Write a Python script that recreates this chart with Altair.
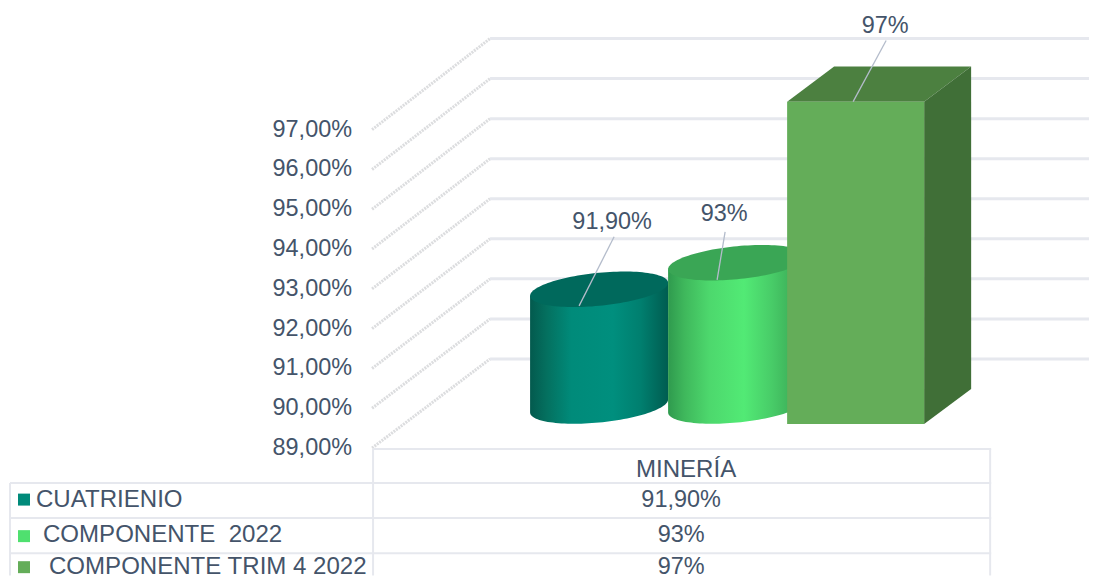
import math
import altair as alt
import pandas as pd

# ---- values
categories = ["CUATRIENIO", "COMPONENTE\u00a0\u00a02022", "COMPONENTE TRIM 4 2022"]
drawn_values = [91.9, 92.56, 97.0]
value_labels = ["91,90%", "93%", "97%"]
axis_values = [89, 90, 91, 92, 93, 94, 95, 96, 97]
axis_labels = ["89,00%", "90,00%", "91,00%", "92,00%", "93,00%", "94,00%", "95,00%", "96,00%", "97,00%"]
column_name = "MINERÍA"

TEXT = "#44546a"
GRID = "#e6e8ee"
FONT = "Liberation Sans"
W, H = 1083, 568
FX, FY = 0.998, 0.997


def pct(py):
    return 89 + (447 - py) / 39.75


x_end = 8 + W * FX
y_end = 8 + H * FY
xs = alt.Scale(domain=[8, x_end], range=[0, W], nice=False, zero=False)
ys = alt.Scale(domain=[pct(y_end), pct(8)], range=[H, 0], nice=False, zero=False)
X = alt.X("x:Q", scale=xs, axis=None)
Y = alt.Y("y:Q", scale=ys, axis=None)
X2 = alt.X2("x2:Q")
Y2 = alt.Y2("y2:Q")


def lines(rows, **mark):
    df = pd.DataFrame([{"x": a, "y": b, "x2": c, "y2": d} for a, b, c, d in rows])
    return alt.Chart(df).mark_rule(**mark).encode(x=X, y=Y, x2=X2, y2=Y2)


def area(df, **mark):
    return alt.Chart(df).mark_area(**mark).encode(x=X, y=Y, y2=Y2)


def texts(rows, size=23.5, align="center"):
    df = pd.DataFrame([{"x": a, "y": b, "t": c} for a, b, c in rows])
    return (
        alt.Chart(df)
        .mark_text(font=FONT, fontSize=size, color=TEXT, align=align, baseline="middle")
        .encode(x=X, y=Y, text="t:N")
    )


# ---- walls
back = {v: pct(358 - (v - 89) * 40) for v in axis_values}
front = {v: pct(447 - (v - 89) * 39.75) for v in axis_values}
grid = lines([(490, back[v], x_end, back[v]) for v in axis_values], color=GRID, strokeWidth=3)
diag = lines(
    [(372, front[v], 490, back[v]) for v in axis_values],
    color="#dcdddf",
    strokeWidth=3,
    strokeDash=[2, 1],
)


# ---- cylinders
def cylinder(cx, value, stops, top_color):
    a, b, s = 69, 16.5, -6.5
    base_y = 405
    top_y = base_y - (value - 89) * 40.2
    ts = [math.pi * (1 - i / 60) for i in range(61)]
    body = pd.DataFrame(
        {
            "x": [cx + a * math.cos(t) for t in ts],
            "y": [pct(top_y + s * math.cos(t)) for t in ts],
            "y2": [pct(base_y + s * math.cos(t) + b * math.sin(t)) for t in ts],
        }
    )
    cap = pd.DataFrame(
        {
            "x": [cx + a * math.cos(t) for t in ts],
            "y": [pct(top_y + s * math.cos(t) - b * math.sin(t)) for t in ts],
            "y2": [pct(top_y + s * math.cos(t) + b * math.sin(t)) for t in ts],
        }
    )
    grad = alt.Gradient(
        gradient="linear",
        x1=0, x2=1, y1=0, y2=0,
        stops=[alt.GradientStop(offset=o, color=c) for o, c in stops],
    )
    return area(body, color=grad) + area(cap, color=top_color)


cyl1 = cylinder(
    599, drawn_values[0],
    [(0, "#035a4e"), (0.12, "#04705f"), (0.3, "#008b7a"), (0.6, "#008f7e"), (0.8, "#007f6f"), (1, "#005c50")],
    "#00695c",
)
cyl2 = cylinder(
    737, drawn_values[1],
    [(0, "#2f9a4e"), (0.12, "#3fb85c"), (0.3, "#4dd86d"), (0.55, "#52ea75"), (0.75, "#48cc68"), (1, "#369e50")],
    "#3aa655",
)

# ---- box
bt = 423 - (drawn_values[2] - 89) * 40.25
bt_back, bb, bb_back = bt - 35, 423, 388
front_df = pd.DataFrame({"x": [787, 924], "y": [pct(bt)] * 2, "y2": [pct(bb)] * 2})
side_df = pd.DataFrame({"x": [924, 971], "y": [pct(bt), pct(bt_back)], "y2": [pct(bb), pct(bb_back)]})
top_df = pd.DataFrame(
    {
        "x": [787, 834, 924, 971],
        "y": [pct(bt), pct(bt_back), pct(bt_back), pct(bt_back)],
        "y2": [pct(bt), pct(bt), pct(bt), pct(bt_back)],
    }
)
box = area(top_df, color="#4c8040") + area(side_df, color="#406f37") + area(front_df, color="#64ad59")

# ---- leaders and data labels
leaders = lines(
    [
        (614, pct(236), 579, pct(305)),
        (725, pct(231), 717, pct(279)),
        (886, pct(40), 853, pct(101)),
    ],
    color="#b4bccb",
    strokeWidth=1.3,
)
data_labels = texts(
    [(612, pct(221), value_labels[0]), (724, pct(213), value_labels[1]), (885, pct(25), value_labels[2])]
)
tick_labels = texts([(352, front[v], l) for v, l in zip(axis_values, axis_labels)], align="right")

# ---- data table
table = lines(
    [
        (373, pct(448), 991, pct(448)),
        (10, pct(482), 991, pct(482)),
        (10, pct(517), 991, pct(517)),
        (10, pct(552), 991, pct(552)),
        (10, pct(482), 10, pct(y_end)),
        (373, pct(448), 373, pct(y_end)),
        (990, pct(448), 990, pct(y_end)),
    ],
    color=GRID,
    strokeWidth=2,
)
row_y = [499, 534, 565.5]
row_x = [36, 43, 49]
row_names = texts([(a, pct(b), c) for a, b, c in zip(row_x, row_y, categories)], size=24.1, align="left")
row_values = texts([(681, pct(b), c) for b, c in zip(row_y, value_labels)], size=23.5)
head = texts([(686, pct(469), column_name)], size=24.1)
swatch_df = pd.DataFrame(
    {
        "x": [24, 24, 24],
        "y": [pct(498.5), pct(535), pct(566)],
        "c": categories,
    }
)
swatches = (
    alt.Chart(swatch_df)
    .mark_point(shape="square", filled=True, size=144, opacity=1)
    .encode(
        x=X,
        y=Y,
        color=alt.Color("c:N", scale=alt.Scale(domain=categories, range=["#008a7a", "#4fe06f", "#64ad59"]), legend=None),
    )
)

chart = (
    alt.layer(
        diag, grid, cyl1, cyl2, box, leaders, data_labels, tick_labels, table, row_names, row_values, head, swatches
    )
    .properties(width=W, height=H, padding=0, background="white")
    .configure_view(stroke=None)
)
chart.save("out.html", embed_options={"renderer": "svg", "actions": False})
